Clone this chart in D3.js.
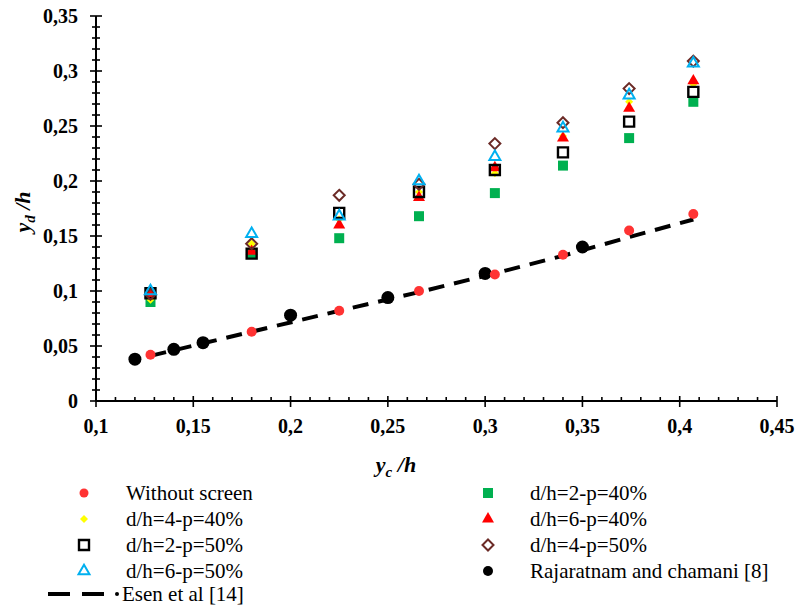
<!DOCTYPE html>
<html lang="en">
<head>
<meta charset="UTF-8">
<title>yd/h vs yc/h</title>
<script src="https://d3js.org/d3.v7.min.js"></script>
<style>
    body { margin: 0; background: #fff; }
</style>
</head>
<body>
<div id="chart"></div>
<script>

    // x positions shared by the screen series
    var xs = [0.128, 0.18, 0.225, 0.266, 0.305, 0.34, 0.374, 0.407];

    var withoutScreen = [0.042, 0.063, 0.082, 0.100, 0.115, 0.133, 0.155, 0.170];
    var dh2p40 = [0.090, 0.134, 0.148, 0.168, 0.189, 0.214, 0.239, 0.272];
    var dh4p40 = [0.092, 0.143, 0.165, 0.190, 0.207, 0.241, 0.272, 0.288];
    var dh6p40 = [0.097, 0.136, 0.160, 0.185, 0.212, 0.239, 0.266, 0.291];
    var dh2p50 = [0.098, 0.134, 0.171, 0.190, 0.210, 0.226, 0.254, 0.281];
    var dh4p50 = [0.097, 0.143, 0.187, 0.197, 0.234, 0.253, 0.284, 0.309];
    var dh6p50 = [0.100, 0.152, 0.168, 0.200, 0.222, 0.248, 0.278, 0.307];

    var rajX = [0.12, 0.14, 0.155, 0.2, 0.25, 0.3, 0.35];
    var rajY = [0.038, 0.047, 0.053, 0.078, 0.094, 0.116, 0.140];

    var esenY = [0.041, 0.063, 0.082, 0.099, 0.116, 0.132, 0.149, 0.165];

    var xTicks = [0.1, 0.15, 0.2, 0.25, 0.3, 0.35, 0.4, 0.45];
    var yTicks = [0, 0.05, 0.1, 0.15, 0.2, 0.25, 0.3, 0.35];

    var w = 798, h = 607;
    var serif = "'Liberation Serif', 'Times New Roman', Times, 'DejaVu Serif', serif";
    var svg = d3.select("#chart").append("svg")
        .attr("width", w)
        .attr("height", h)
        .attr("font-family", serif)
        .style("font-family", serif);

    var x = d3.scaleLinear().domain([0.1, 0.45]).range([96, 777]);
    var y = d3.scaleLinear().domain([0, 0.35]).range([401, 16]);

    function fmt(v) { return String(+v.toFixed(2)).replace(".", ","); }

    // marker shapes
    function diamond(r) {
        return "M0," + (-r) + "L" + r + ",0L0," + r + "L" + (-r) + ",0Z";
    }
    function tri(s) {
        var hh = s * Math.sqrt(3) / 2;
        return "M0," + (-hh * 2 / 3) + "L" + (s / 2) + "," + (hh / 3) + "L" + (-s / 2) + "," + (hh / 3) + "Z";
    }
    function sq(s) {
        return "M" + (-s / 2) + "," + (-s / 2) + "h" + s + "v" + s + "h" + (-s) + "Z";
    }
    function circ(r) {
        return "M" + (-r) + ",0a" + r + "," + r + " 0 1,0 " + (2 * r) + ",0a" + r + "," + r + " 0 1,0 " + (-2 * r) + ",0Z";
    }

    var styles = {
        red:    { d: circ(5),     fill: "#ff3333", stroke: "none", sw: 0 },
        green:  { d: sq(10),      fill: "#00b050", stroke: "none", sw: 0 },
        yellow: { d: diamond(4),  fill: "#ffff00", stroke: "none", sw: 0 },
        redtri: { d: tri(12),     fill: "#ff0000", stroke: "none", sw: 0 },
        box:    { d: sq(10),      fill: "none", stroke: "#000", sw: 2.4 },
        brown:  { d: diamond(5.5),fill: "none", stroke: "#6b2a26", sw: 2 },
        blue:   { d: tri(11),     fill: "none", stroke: "#00b0f0", sw: 2 },
        black:  { d: circ(6.5),   fill: "#000", stroke: "none", sw: 0 }
    };

    function drawMarkers(xv, yv, st) {
        svg.append("g").selectAll("path")
            .data(yv)
            .enter()
            .append("path")
            .attr("transform", function (d, i) { return "translate(" + x(xv[i]) + "," + y(d) + ")"; })
            .attr("d", st.d)
            .attr("fill", st.fill)
            .attr("stroke", st.stroke)
            .attr("stroke-width", st.sw);
    }

    // axes
    var yAxis = svg.append("g").attr("transform", "translate(96,0)");
    yAxis.append("line").attr("x1", 0).attr("x2", 0).attr("y1", y(0.35)).attr("y2", y(0)).attr("stroke", "#000").attr("stroke-width", 2);
    yAxis.selectAll(".minor").data(d3.range(0, 36)).enter().append("line")
        .attr("x1", function (d) { return d % 5 === 0 ? -6 : -4; })
        .attr("x2", function (d) { return d % 5 === 0 ? 6 : 4; })
        .attr("y1", function (d) { return y(d / 100); })
        .attr("y2", function (d) { return y(d / 100); })
        .attr("stroke", "#000").attr("stroke-width", 1.6);
    yAxis.selectAll("text").data(yTicks).enter().append("text")
        .attr("x", -18).attr("y", function (d) { return y(d); })
        .attr("dy", "0.35em")
        .attr("text-anchor", "end")
        .attr("font-size", 20).attr("font-weight", "bold")
        .text(fmt);

    var xAxis = svg.append("g").attr("transform", "translate(0,401)");
    xAxis.append("line").attr("x1", x(0.1)).attr("x2", x(0.45)).attr("y1", 0).attr("y2", 0).attr("stroke", "#000").attr("stroke-width", 2);
    xAxis.selectAll(".minor").data(d3.range(10, 46)).enter().append("line")
        .attr("x1", function (d) { return x(d / 100); })
        .attr("x2", function (d) { return x(d / 100); })
        .attr("y1", function (d) { return d % 5 === 0 ? -5 : -4; })
        .attr("y2", function (d) { return d % 5 === 0 ? 6 : 0; })
        .attr("stroke", "#000").attr("stroke-width", 1.6);
    xAxis.selectAll("text").data(xTicks).enter().append("text")
        .attr("x", function (d) { return x(d); }).attr("y", 32)
        .attr("text-anchor", "middle")
        .attr("font-size", 20).attr("font-weight", "bold")
        .text(fmt);

    // axis titles
    var xt = svg.append("text").attr("x", 396).attr("y", 472)
        .attr("text-anchor", "middle").attr("font-size", 22)
        .attr("font-weight", "bold").attr("font-style", "italic");
    xt.append("tspan").text("y");
    xt.append("tspan").attr("font-size", 15).attr("dy", 5).text("c");
    xt.append("tspan").attr("dy", -5).text(" /h");

    var yt = svg.append("text").attr("transform", "translate(30,212) rotate(-90)")
        .attr("text-anchor", "middle").attr("font-size", 22)
        .attr("font-weight", "bold").attr("font-style", "italic");
    yt.append("tspan").text("y");
    yt.append("tspan").attr("font-size", 15).attr("dy", 5).text("d");
    yt.append("tspan").attr("dy", -5).text(" /h");

    // Esen line
    var line = d3.line().x(function (d, i) { return x(xs[i]); }).y(function (d) { return y(d); });
    svg.append("path").datum(esenY)
        .attr("d", line)
        .attr("fill", "none").attr("stroke", "#000")
        .attr("stroke-width", 4).attr("stroke-dasharray", "16,10");

    drawMarkers(rajX, rajY, styles.black);
    drawMarkers(xs, withoutScreen, styles.red);
    drawMarkers(xs, dh2p40, styles.green);
    drawMarkers(xs, dh4p40, styles.yellow);
    drawMarkers(xs, dh6p40, styles.redtri);
    drawMarkers(xs, dh2p50, styles.box);
    drawMarkers(xs, dh4p50, styles.brown);
    drawMarkers(xs, dh6p50, styles.blue);

    // legend
    var legendItems = [
        { label: "Without screen", st: styles.red, col: 0, row: 0 },
        { label: "d/h=2-p=40%", st: styles.green, col: 1, row: 0 },
        { label: "d/h=4-p=40%", st: styles.yellow, col: 0, row: 1 },
        { label: "d/h=6-p=40%", st: styles.redtri, col: 1, row: 1 },
        { label: "d/h=2-p=50%", st: styles.box, col: 0, row: 2 },
        { label: "d/h=4-p=50%", st: styles.brown, col: 1, row: 2 },
        { label: "d/h=6-p=50%", st: styles.blue, col: 0, row: 3 },
        { label: "Rajaratnam and chamani [8]", st: styles.black, col: 1, row: 3 }
    ];
    var colMark = [84, 488], colText = [126, 530];
    var legend = svg.append("g");
    legendItems.forEach(function (it) {
        var ly = 493 + it.row * 26;
        var ls = it.st;
        var d = ls === styles.black ? circ(5) : ls === styles.red ? circ(4.5) : ls.d;
        legend.append("path")
            .attr("transform", "translate(" + colMark[it.col] + "," + ly + ")")
            .attr("d", d).attr("fill", ls.fill).attr("stroke", ls.stroke).attr("stroke-width", ls.sw);
        legend.append("text").attr("x", colText[it.col]).attr("y", ly).attr("dy", "0.35em")
            .attr("font-size", 21).text(it.label);
    });
    var ey = 594;
    legend.append("line").attr("x1", 48).attr("x2", 104).attr("y1", ey).attr("y2", ey)
        .attr("stroke", "#000").attr("stroke-width", 4).attr("stroke-dasharray", "22,12");
    legend.append("circle").attr("cx", 117).attr("cy", ey).attr("r", 2).attr("fill", "#000");
    legend.append("text").attr("x", 122).attr("y", ey).attr("dy", "0.35em")
        .attr("font-size", 21).text("Esen et al [14]");

</script>
</body>
</html>
